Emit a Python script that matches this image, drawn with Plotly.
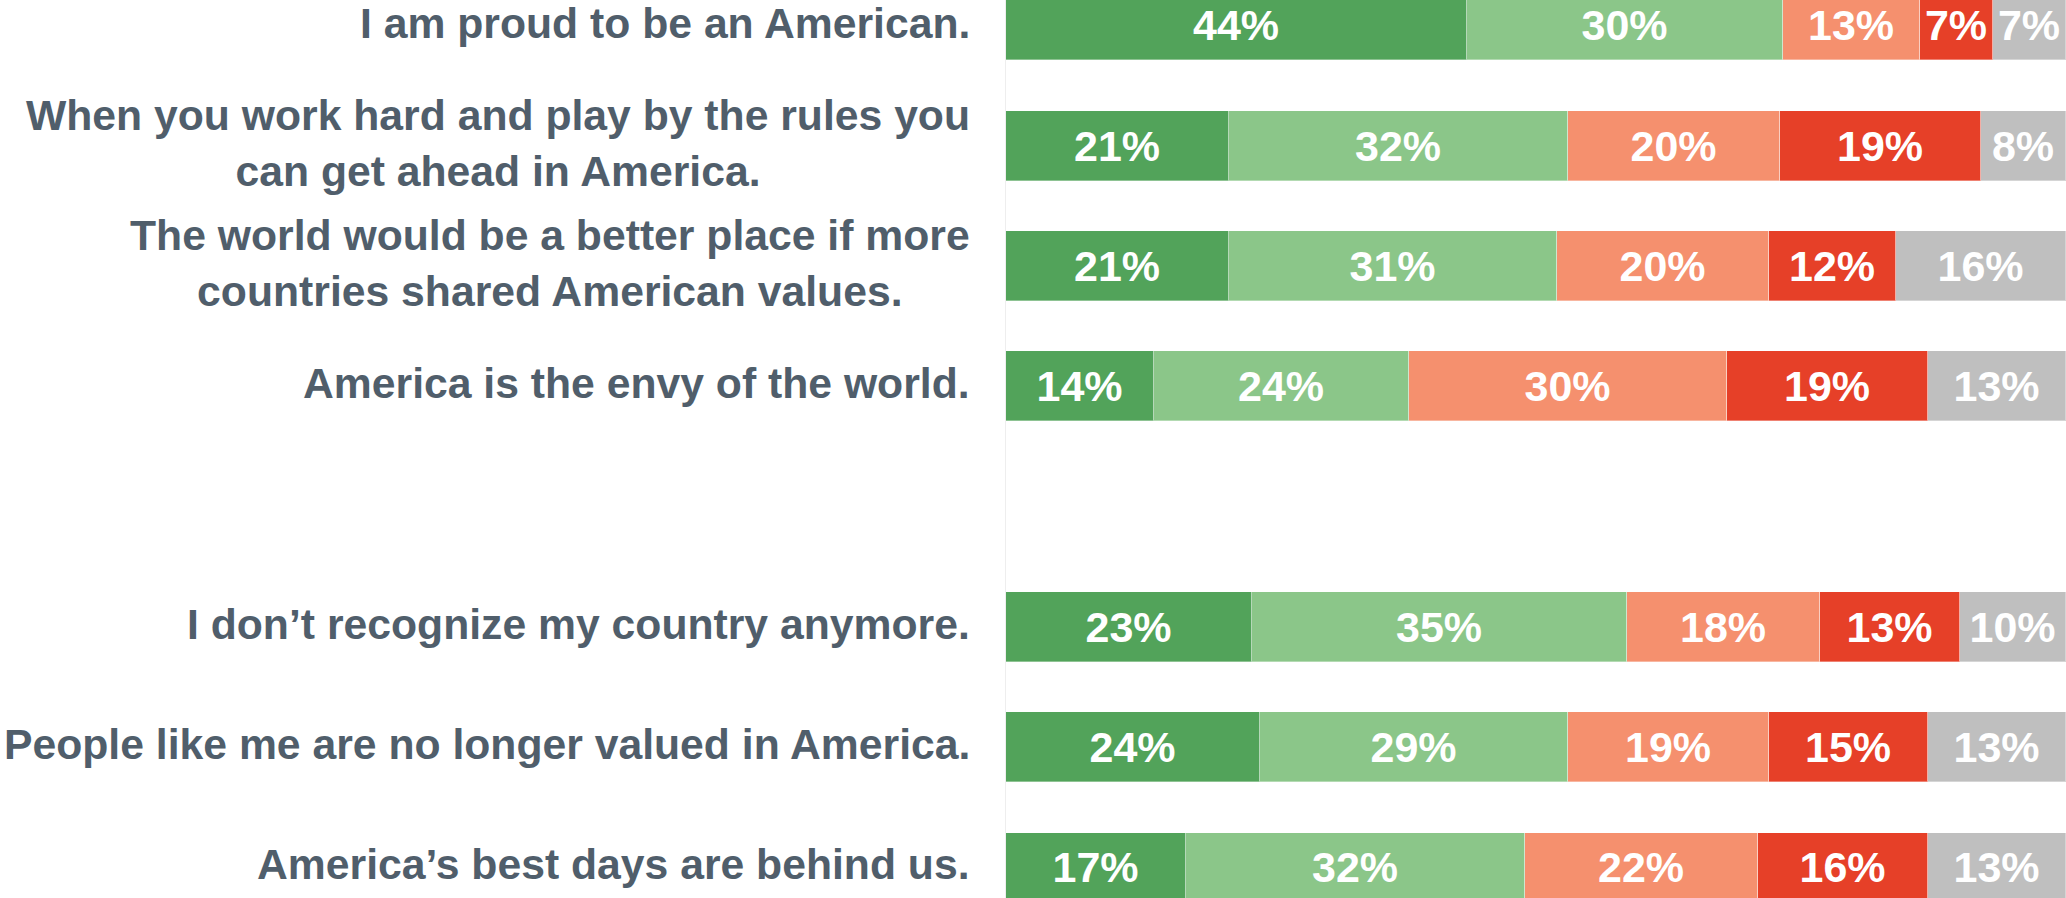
import plotly.graph_objects as go

# ---- data -------------------------------------------------------------
statements = [
    "I am proud to be an American.",
    "When you work hard and play by the rules you<br>can get ahead in America.",
    "The world would be a better place if more<br>countries shared American values.",
    "America is the envy of the world.",
    None,  # spacer row
    "I don’t recognize my country anymore.",
    "People like me are no longer valued in America.",
    "America’s best days are behind us.",
]

series_names = ["Strongly agree", "Somewhat agree", "Somewhat disagree",
                "Strongly disagree", "Don't know"]

# segment widths (share of respondents, %)
strongly_agree    = [43.5, 21, 21, 14, 23.2, 24, 17]
somewhat_agree    = [29.8, 32, 31, 24, 35.4, 29, 32]
somewhat_disagree = [12.9, 20, 20, 30, 18.2, 19, 22]
strongly_disagree = [6.9, 19, 12, 19, 13.2, 15, 16]
dont_know         = [6.9, 8, 16, 13, 10.0, 13, 13]

# printed labels (rounded %)
strongly_agree_lbl    = [44, 21, 21, 14, 23, 24, 17]
somewhat_agree_lbl    = [30, 32, 31, 24, 35, 29, 32]
somewhat_disagree_lbl = [13, 20, 20, 30, 18, 19, 22]
strongly_disagree_lbl = [7, 19, 12, 19, 13, 15, 16]
dont_know_lbl         = [7, 8, 16, 13, 10, 13, 13]

colors = ["#52A35A", "#8BC689", "#F5906E", "#E64028", "#BFBFBF"]

# ---- figure -----------------------------------------------------------
rows = [i for i, s in enumerate(statements) if s is not None]
values = [strongly_agree, somewhat_agree, somewhat_disagree, strongly_disagree, dont_know]
labels = [strongly_agree_lbl, somewhat_agree_lbl, somewhat_disagree_lbl,
          strongly_disagree_lbl, dont_know_lbl]

FONT = "Liberation Sans, Arial, Helvetica, sans-serif"

fig = go.Figure()
for name, vals, lbls, col in zip(series_names, values, labels, colors):
    fig.add_trace(go.Bar(
        name=name, orientation="h", y=rows, x=vals,
        width=0.579,
        marker=dict(color=col, line=dict(color="rgba(255,255,255,0.35)", width=1)),
        text=[f"{v}%" for v in lbls],
        textposition="inside", insidetextanchor="middle",
        constraintext="none", textangle=0, cliponaxis=False,
        textfont=dict(family=FONT, size=43, color="white", weight="bold"),
        hoverinfo="skip",
    ))

# category labels as annotations (right-aligned block, centred lines)
for i, s in enumerate(statements):
    if s is None:
        continue
    fig.add_annotation(
        xref="paper", yref="y", x=-0.0325, y=i,
        xanchor="right", yanchor="middle", align="center",
        text=s, showarrow=False, yshift=3,
        font=dict(family=FONT, size=42.7, color="#505E6B", weight="bold"),
    )

fig.update_layout(
    width=2066, height=898,
    margin=dict(l=1006, r=0, t=0, b=0, pad=0),
    barmode="stack", bargap=0,
    showlegend=False,
    paper_bgcolor="white", plot_bgcolor="white",
    xaxis=dict(range=[0, 100.02], visible=False, fixedrange=True),
    yaxis=dict(range=[7.255, -0.212], showticklabels=False, showgrid=False,
               zeroline=False, showline=True, linecolor="#EEEEEE", linewidth=1,
               ticks="", layer="below traces", fixedrange=True),
)

fig.write_html(
    "out.html",
    config={"displayModeBar": False},
    post_script="document.body.style.margin='0';document.body.style.overflow='hidden';",
)
